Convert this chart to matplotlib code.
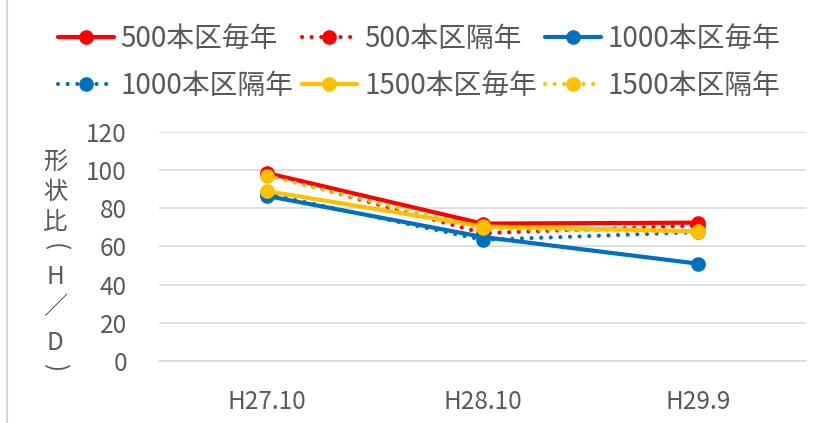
import matplotlib
matplotlib.use("Agg")
import matplotlib.pyplot as plt

plt.rcParams['font.family'] = ['Noto Sans CJK JP', 'DejaVu Sans']

categories = ["H27.10", "H28.10", "H29.9"]
series_names = ["500本区毎年", "500本区隔年", "1000本区毎年", "1000本区隔年", "1500本区毎年", "1500本区隔年"]
v500_every = [98.5, 72, 72.5]
v500_alt = [98, 67, 71]
v1000_every = [86.5, 65, 51]
v1000_alt = [87.5, 63.5, 67.5]
v1500_every = [89, 70.5, 68]
v1500_alt = [97, 69.5, 67.5]
yticks = [0, 20, 40, 60, 80, 100, 120]

colors = ["#FF0000", "#FF0000", "#0070C0", "#0070C0", "#FFC000", "#FFC000"]
dotted = (0, (0.01, 2.3))
styles = ["-", dotted, "-", dotted, "-", dotted]
values = [v500_every, v500_alt, v1000_every, v1000_alt, v1500_every, v1500_alt]

TXT = "#595959"

fig = plt.figure(figsize=(8.19, 4.23), dpi=100)
ax = fig.add_axes([159/819, 1-361/423, (806-159)/819, (361-132)/423])
x = list(range(len(categories)))
handles = []
for name, vals, c, ls in zip(series_names, values, colors, styles):
    h, = ax.plot(x, vals, color=c, linestyle=ls, linewidth=3, marker='o',
                 markersize=9.5, label=name, dash_capstyle='round',
                 solid_capstyle='round', zorder=3)
    handles.append(h)

ax.set_xlim(-0.5, 2.5)
ax.set_ylim(0, 120)
ax.set_yticks(yticks)
ax.set_xticks(x)
ax.set_xticklabels(categories)
ax.tick_params(axis='y', labelsize=17.5, colors=TXT, length=0, pad=23)
ax.tick_params(axis='x', labelsize=17.5, colors=TXT, length=0, pad=20)
ax.grid(axis='y', color="#D9D9D9", linewidth=1.2)
ax.set_axisbelow(True)
for s in ["top", "right", "left"]:
    ax.spines[s].set_visible(False)
ax.spines["bottom"].set_color("#D9D9D9")
ax.spines["bottom"].set_linewidth(1.2)

# vertical y label, one character per line (parentheses turned for vertical writing)
ylab_chars = ["形", "状", "比", "(", "H", "／", "D", ")"]
ylab_rot = [0, 0, 0, -90, 0, 0, 0, -90]
ylab_y = [162, 192, 222, 247, 277, 307, 343, 367]
for ch, rot, yy in zip(ylab_chars, ylab_rot, ylab_y):
    fig.text(55/819, 1-yy/423, ch, ha='center', va='center', fontsize=17.5,
             color=TXT, rotation=rot, rotation_mode='default')

# legend: row-wise order in a column-major legend
order = [0, 3, 1, 4, 2, 5]
fig.legend(handles=[handles[i] for i in order], labels=[series_names[i] for i in order],
           loc='center', bbox_to_anchor=(0.512, 1-62.5/423), ncol=3, frameon=False,
           fontsize=20, handlelength=2.0, columnspacing=0.3, handletextpad=0.25,
           labelspacing=0.62, labelcolor=TXT, markerscale=1.0,
           borderpad=0, borderaxespad=0)

# left border line of chart area
fig.add_artist(plt.Line2D([7/819, 7/819], [0, 1], color="#D9D9D9", linewidth=1.5))

fig.savefig("out.png", dpi=100)
